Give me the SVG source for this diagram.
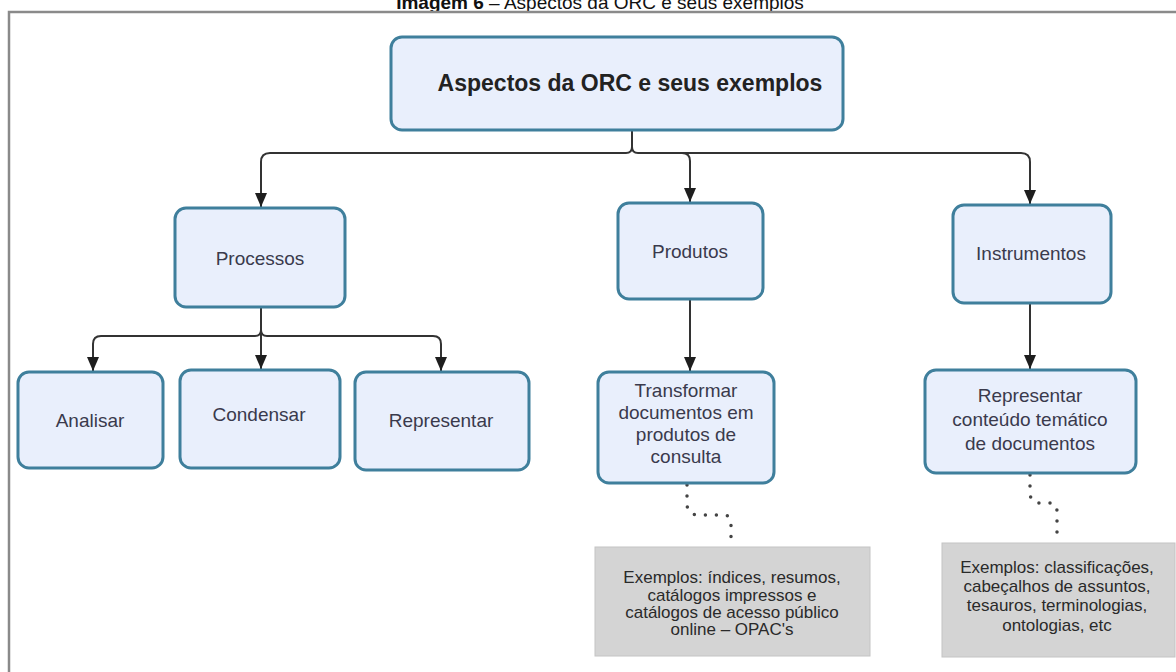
<svg xmlns="http://www.w3.org/2000/svg" width="1176" height="672" viewBox="0 0 1176 672">
<defs>
<marker id="arr" viewBox="0 0 14 12" refX="14" refY="6" markerWidth="14" markerHeight="12" markerUnits="userSpaceOnUse" orient="auto">
<path d="M0,0 L14,6 L0,12 z" fill="#1e1e1e"/>
</marker>
<style>
.node{fill:#e9effc;stroke:#3f7f9c;stroke-width:3}
.ex{fill:#d4d4d4;stroke:#c4c4c4;stroke-width:1}
.t{font-family:"Liberation Sans",Arial,sans-serif;font-size:19px;fill:#3a3a4c;text-anchor:middle}
.tb{font-family:"Liberation Sans",Arial,sans-serif;font-size:23px;font-weight:bold;fill:#222;text-anchor:middle}
.te{font-family:"Liberation Sans",Arial,sans-serif;font-size:17px;fill:#2a2a2a;text-anchor:middle}
.c{fill:none;stroke:#333;stroke-width:2}
.d{fill:none;stroke:#444;stroke-width:3.5;stroke-linecap:round;stroke-dasharray:0 11}
</style>
</defs>
<rect width="1176" height="672" fill="#fff"/>
<text x="600" y="9" font-family="'Liberation Sans',Arial,sans-serif" font-size="19" fill="#111" text-anchor="middle"><tspan font-weight="bold">Imagem 6</tspan> – Aspectos da ORC e seus exemplos</text>
<path d="M9 672 V12 H1176" fill="none" stroke="#8a8a8a" stroke-width="2.5"/>
<g id="connectors">
<path class="c" d="M632 130 V147 Q632 153 626 153 H270 Q261 153 261 162 V207" marker-end="url(#arr)"/>
<path class="c" d="M632 147 Q632 153 638 153 H1021 Q1030 153 1030 162 V204" marker-end="url(#arr)"/>
<path class="c" d="M682 153 Q690 153 690 161 V202" marker-end="url(#arr)"/>
<path class="c" d="M261 307 V330 Q261 336 255 336 H101 Q93 336 93 344 V371" marker-end="url(#arr)"/>
<path class="c" d="M261 330 Q261 336 267 336 H433 Q441 336 441 344 V371" marker-end="url(#arr)"/>
<path class="c" d="M261 330 V369" marker-end="url(#arr)"/>
<path class="c" d="M690 299 V371" marker-end="url(#arr)"/>
<path class="c" d="M1030 303 V369" marker-end="url(#arr)"/>
<path class="d" d="M687 485 V505 Q688 515 698 515 H724 Q731 515 731 524 V546"/>
<path class="d" d="M1030 475 V494 Q1031 503 1040 503 H1050 Q1057 503 1057 512 V542"/>
</g>
<g id="n-root"><rect class="node" x="391" y="37" width="452" height="93" rx="11"/><text class="tb" x="630" y="91">Aspectos da ORC e seus exemplos</text></g>
<g id="n-processos"><rect class="node" x="175" y="208" width="170" height="99" rx="11"/><text class="t" x="260" y="265" font-size="21">Processos</text></g>
<g id="n-produtos"><rect class="node" x="618" y="203" width="145" height="96" rx="11"/><text class="t" x="690" y="258" font-size="20">Produtos</text></g>
<g id="n-instrumentos"><rect class="node" x="953" y="205" width="158" height="98" rx="11"/><text class="t" x="1031" y="260" font-size="20">Instrumentos</text></g>
<g id="n-analisar"><rect class="node" x="18" y="372" width="145" height="96" rx="11"/><text class="t" x="90" y="427">Analisar</text></g>
<g id="n-condensar"><rect class="node" x="180" y="370" width="160" height="98" rx="11"/><text class="t" x="259" y="421">Condensar</text></g>
<g id="n-representar"><rect class="node" x="355" y="372" width="174" height="98" rx="11"/><text class="t" x="441" y="427">Representar</text></g>
<g id="n-transformar"><rect class="node" x="598" y="372" width="176" height="111" rx="11"/>
<text class="t" x="686" y="397">Transformar</text><text class="t" x="686" y="419">documentos em</text><text class="t" x="686" y="441">produtos de</text><text class="t" x="686" y="463">consulta</text></g>
<g id="n-repconteudo"><rect class="node" x="925" y="370" width="211" height="103" rx="11"/>
<text class="t" x="1030" y="402" font-size="20">Representar</text><text class="t" x="1030" y="426" font-size="20">conteúdo temático</text><text class="t" x="1030" y="450" font-size="20">de documentos</text></g>
<g id="n-ex1"><rect class="ex" x="595" y="547" width="275" height="109"/>
<text class="te" x="732" y="583">Exemplos: índices, resumos,</text><text class="te" x="732" y="601">catálogos impressos e</text><text class="te" x="732" y="618">catálogos de acesso público</text><text class="te" x="732" y="635">online – OPAC's</text></g>
<g id="n-ex2"><rect class="ex" x="942" y="543" width="233" height="114"/>
<text class="te" x="1057" y="573">Exemplos: classificações,</text><text class="te" x="1057" y="592">cabeçalhos de assuntos,</text><text class="te" x="1057" y="611">tesauros, terminologias,</text><text class="te" x="1057" y="631">ontologias, etc</text></g>
</svg>
